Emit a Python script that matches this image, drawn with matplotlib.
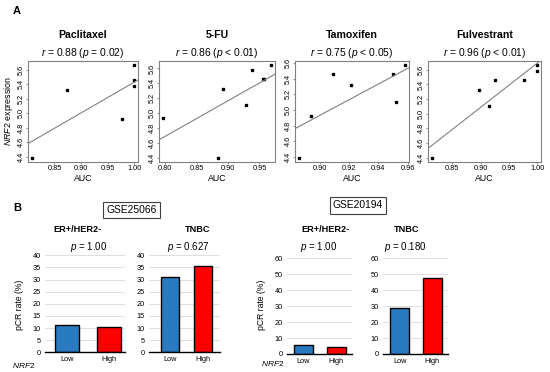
import matplotlib
matplotlib.use("Agg")
import matplotlib.pyplot as plt
import numpy as np

plt.rcParams['font.family'] = ['Liberation Sans', 'DejaVu Sans']
plt.rcParams['mathtext.fontset'] = 'custom'
plt.rcParams['mathtext.rm'] = 'Liberation Sans'
plt.rcParams['mathtext.it'] = 'Liberation Sans:italic'

# ---- panel A data: AUC vs NRF2 expression
drugs = ['Paclitaxel', '5-FU', 'Tamoxifen', 'Fulvestrant']
r_vals = ['0.88', '0.86', '0.75', '0.96']
p_vals = ['= 0.02', '< 0.01', '< 0.05', '< 0.01']

auc_pac = [0.808, 0.873, 0.977, 0.999, 0.999, 0.999]
nrf2_pac = [4.38, 5.32, 4.92, 5.67, 5.46, 5.37]
auc_fu = [0.797, 0.884, 0.892, 0.929, 0.939, 0.955, 0.958, 0.968]
nrf2_fu = [4.93, 4.39, 5.32, 5.11, 5.58, 5.46, 5.46, 5.65]
auc_tam = [0.886, 0.894, 0.909, 0.921, 0.950, 0.952, 0.958]
nrf2_tam = [4.38, 4.92, 5.46, 5.32, 5.46, 5.10, 5.58]
auc_ful = [0.815, 0.897, 0.915, 0.926, 0.976, 0.999, 0.999]
nrf2_ful = [4.39, 5.32, 5.10, 5.46, 5.46, 5.67, 5.58]

x_ticks = [[0.85, 0.90, 0.95, 1.00], [0.80, 0.85, 0.90, 0.95],
           [0.90, 0.92, 0.94, 0.96], [0.85, 0.90, 0.95, 1.00]]
y_ticks = [4.4, 4.6, 4.8, 5.0, 5.2, 5.4, 5.6]

# ---- panel B data: pCR rate (%)
groups = ['Low', 'High']
gse25066_er = [11.1, 10.6]
gse25066_tnbc = [31.2, 35.5]
gse20194_er = [5.8, 4.6]
gse20194_tnbc = [29.0, 47.9]
p_bar = ['1.00', '0.627', '1.00', '0.180']

W, H = 550, 372
fig = plt.figure(figsize=(5.5, 3.72), dpi=100)


def box(x0, x1, ytop, ybot):
    # pixel box -> [left, bottom, width, height]
    return [x0 / W, 1 - ybot / H, (x1 - x0) / W, (ybot - ytop) / H]


def fx(x):
    return x / W


def fy(y):
    return 1 - y / H


# ---------- A ----------
fig.text(fx(13), fy(11), 'A', fontsize=8, fontweight='bold', va='center')

sc_x = [(28, 138), (159, 275), (295, 409), (428, 541)]
sc_data = [(auc_pac, nrf2_pac), (auc_fu, nrf2_fu),
           (auc_tam, nrf2_tam), (auc_ful, nrf2_ful)]

for i, (x0, x1) in enumerate(sc_x):
    ax = fig.add_axes(box(x0, x1, 61, 162))
    xs, ys = np.array(sc_data[i][0]), np.array(sc_data[i][1])
    ax.plot(xs, ys, 's', color='black', markersize=1.8)
    ax.margins(0.04)
    ax.autoscale_view()
    ax.autoscale(False)
    m, b = np.polyfit(xs, ys, 1)
    ax.axline((0, b), slope=m, color='#808080', lw=0.8)
    ax.set_xticks(x_ticks[i])
    ax.set_xticklabels(['%.2f' % t for t in x_ticks[i]])
    ax.set_yticks(y_ticks)
    ax.set_yticklabels(['%.1f' % t for t in y_ticks], rotation=90, va='center')
    ax.tick_params(labelsize=5.3, length=1.5, width=0.5, color='#606060', pad=1)
    for s in ax.spines.values():
        s.set_color('#808080')
        s.set_linewidth(0.8)
    ax.set_xlabel('AUC', fontsize=6.3, labelpad=1)
    cx = (x0 + x1) / 2
    fig.text(fx(cx), fy(35), drugs[i], fontsize=7.6, fontweight='bold',
             ha='center', va='center')
    fig.text(fx(cx), fy(53), r'$r$ = %s ($p$ %s)' % (r_vals[i], p_vals[i]),
             fontsize=7.4, ha='center', va='center')

fig.text(fx(9), fy(111), r'$NRF2$ expression', rotation=90, fontsize=6.4,
         ha='center', va='center')

# ---------- B ----------
fig.text(fx(13), fy(208), 'B', fontsize=8, fontweight='bold', va='center')

bar_specs = [
    (gse25066_er, (45, 125), (255.3, 352.3), (-0.524, 1.39), 0.57, 40, 5, 'ER+/HER2-'),
    (gse25066_tnbc, (149, 220), (255.3, 352.3), (-0.635, 1.52), 0.56, 40, 5, 'TNBC'),
    (gse20194_er, (287, 352), (258.3, 354), (-0.49, 1.47), 0.58, 60, 10, 'ER+/HER2-'),
    (gse20194_tnbc, (383, 448), (258.3, 354), (-0.51, 1.48), 0.58, 60, 10, 'TNBC'),
]
title_x = [78, 198, 325, 407]
p_x = [89, 188, 319, 405]

for i, (vals, (x0, x1), (yt, yb), xl, bw, ymax, step, ttl) in enumerate(bar_specs):
    ax = fig.add_axes(box(x0, x1, yt, yb))
    ax.bar([0, 1], vals, width=bw, color=['#2a7ac2', '#ff0000'],
           edgecolor='black', linewidth=1.0, zorder=3)
    ax.set_xlim(*xl)
    ax.set_ylim(0, ymax)
    ax.set_yticks(np.arange(0, ymax + 1, step))
    ax.set_xticks([0, 1])
    ax.set_xticklabels(groups)
    ax.grid(axis='y', color='#d9d9d9', lw=0.6, zorder=0)
    for s in ['top', 'right', 'left']:
        ax.spines[s].set_visible(False)
    ax.spines['bottom'].set_linewidth(1.0)
    ax.spines['bottom'].set_zorder(4)
    ax.tick_params(length=0, labelsize=5.3, pad=3)
    fig.text(fx(title_x[i]), fy(230), ttl, fontsize=6.6, fontweight='bold',
             ha='center', va='center')
    fig.text(fx(p_x[i]), fy(247), r'$p$ = ' + p_bar[i], fontsize=7.0,
             ha='center', va='center')

for x in [19, 262]:
    fig.text(fx(x), fy(305), 'pCR rate (%)', rotation=90, fontsize=6.2,
             ha='center', va='center')
fig.text(fx(24), fy(365), r'$NRF2$', fontsize=6.0, ha='center', va='center')
fig.text(fx(273), fy(364), r'$NRF2$', fontsize=6.0, ha='center', va='center')

for label, cx, cy in [('GSE25066', 131.5, 210), ('GSE20194', 358, 205.5)]:
    fig.text(fx(cx), fy(cy), label, fontsize=7.4, ha='center', va='center',
             bbox=dict(boxstyle='square,pad=0.3', facecolor='white',
                       edgecolor='#404040', linewidth=0.8))

fig.savefig('out.png', dpi=100)
